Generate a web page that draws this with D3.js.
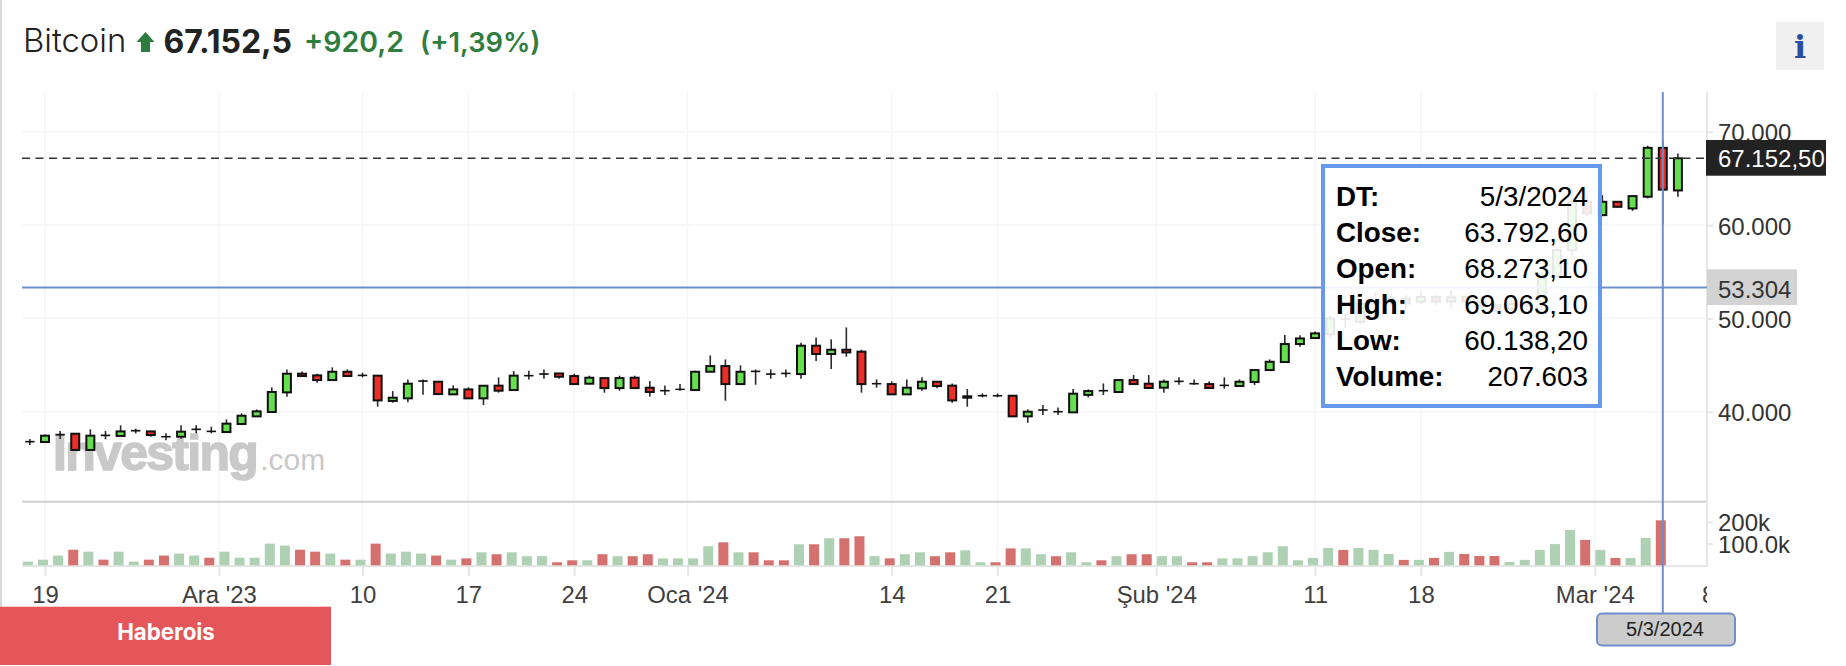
<!DOCTYPE html>
<html><head><meta charset="utf-8">
<script src="https://cdn.jsdelivr.net/npm/d3@7/dist/d3.min.js"></script>
<style>html,body{margin:0;padding:0;background:#fff}svg{display:block}</style>
</head><body><svg id="c" width="1846" height="666"></svg>
<script>
const opens=[36780,36750,37520,37640,35900,37480,37400,37950,37890,37330,37320,38100,37900,37820,38680,39500,39970,42070,44070,43890,43390,44280,43880,43860,41150,41430,43270,43210,41860,42390,41430,42790,42320,43850,44020,44100,43820,43000,43600,42530,43640,42570,42240,42390,42320,44280,44890,42960,44330,44040,44110,44030,47070,46180,46640,46430,42990,42960,41860,42500,43210,42790,41500,41700,41720,41710,39500,40170,40010,39930,41800,42260,42110,43390,43000,42570,43240,43010,42960,42810,42750,43180,44460,45320,47250,47890,48290,49950,49650,51600,51800,52130,51780,52300,51800,52300,51800,51400,51000,51400,51800,54460,57300,62490,61060,62490,61780,63030,68273.1,63705];
const closes=[36800,37430,37560,35900,37430,37450,37890,37980,37500,37310,37860,38120,37880,38720,39570,40040,42110,44070,43820,43390,44280,43820,43900,41210,41500,43000,43300,41890,42390,41430,42780,42250,43860,43870,44050,43750,42960,43640,42530,43600,42530,42110,42260,42400,44280,44890,42960,44280,44310,44020,44090,47070,46180,46640,46350,42960,43010,41860,42570,43210,42750,41210,41650,41730,41700,39500,40000,40190,39990,41930,42210,42240,43390,42960,42540,43210,43260,42990,42540,42830,43210,44460,45350,47250,47850,48390,49990,49920,51600,51800,52100,51600,52300,51800,52250,51800,51300,50800,51550,51700,54300,57310,62450,61240,62490,61950,63100,68270,63792.6,67152.5];
const highs=[37070,37570,37930,37640,38110,37930,38540,38180,37930,37680,38540,38540,38390,39180,39820,40250,42610,44530,44320,44070,44750,44530,44180,43890,42210,43460,43460,43220,42820,42610,42800,43680,44350,44390,44530,44110,44070,43860,43610,43860,43860,43280,42820,42960,44390,46030,45600,44960,44530,44530,44530,47390,47960,47750,49030,46640,43460,43250,43460,43680,43250,43030,42430,41960,41960,41730,40250,40710,40460,42430,42390,43030,43460,43930,43930,43460,43680,43460,43250,43680,43460,44530,45600,48210,48180,48600,50300,50500,51950,52800,52600,52500,52900,52500,53030,52400,52000,51500,51950,51950,54900,57500,63900,63200,63200,62550,63200,68500,69063.1,67668];
const lows=[36430,36680,37070,35890,35820,37040,37320,37680,37320,36930,37110,37680,37680,37750,38610,39430,39890,41610,43750,43110,43320,43750,43680,40540,40960,41000,41820,41860,41780,41390,40710,42040,42250,43460,43530,43530,42930,42930,42040,42250,42500,41610,41780,42250,42320,44250,41180,42930,42890,43530,43680,43530,45430,44570,45890,42040,42570,41790,41820,42250,42500,40960,40530,41540,41540,39480,38820,39640,39640,39890,41530,41790,42040,42960,42500,42040,42890,42890,42500,42460,42680,42860,44390,45250,46960,47820,47850,49000,49300,50700,51400,51000,51500,51400,51070,50700,50900,50500,50650,50900,50700,54450,56700,60880,60950,61880,61520,62850,60138.2,63027];
const volumes=[17,26,45,72,63,26,63,17,26,45,54,45,35,63,35,35,100,91,72,63,54,26,26,100,54,63,54,45,26,32,60,51,60,42,42,14,23,23,51,42,42,51,32,32,32,88,106,60,60,23,23,97,97,125,125,134,42,32,51,60,42,60,69,14,14,78,78,51,42,60,14,23,42,51,51,42,42,14,14,32,32,42,60,88,23,34,80,71,80,71,52,25,25,34,62,52,43,43,15,25,71,98,163,117,71,34,34,126,207.603,0].map(v=>v*1000);
const xTickDays=[1,12.5,22,29,36,43.5,57,64,74.5,85,92,103.5,111];
const xTickLabels=["19","Ara '23","10","17","24","Oca '24","14","21","Şub '24","11","18","Mar '24","8"];
const priceTicks=[40000,50000,60000,70000];
const volumeTicks=[100000,200000];
const volumeTickLabels=["100.0k","200k"];
const lastPrice=67152.5, crossPrice=53304, crossDay=108;
const tooltipLabels=["DT:","Close:","Open:","High:","Low:","Volume:"];
const tooltipValues=["5/3/2024","63.792,60","68.273,10","69.063,10","60.138,20","207.603"];

const svg=d3.select("#c");
const sans="'Liberation Sans',Arial,sans-serif", inter="Inter,sans-serif";
const L=22,R=1707,T=92,B=565.3,SEP=501.7;
const x=d3.scaleLinear().domain([1,108]).range([45,1662.8]);
const y=d3.scaleLinear().domain([40000,70000]).range([411.7,131.7]);
const yv=d3.scaleLinear().domain([0,100000]).range([B,B-21.67]);
const loc=d3.formatLocale({decimal:",",thousands:".",grouping:[3],currency:["",""]});
const days=d3.range(opens.length);
const UP="#66DF4E",DN="#EE2E24",VUP="#ADD1B2",VDN="#D4706E",LINE="#e6e6e6",BLUE="#6E8FC9";

svg.append("rect").attr("x",0).attr("y",0).attr("width",2).attr("height",610).attr("fill","#d9d9d9");

// header
const hdr=svg.append("g").attr("font-family",inter);
hdr.append("text").attr("x",23).attr("y",52).attr("font-size",32.8).attr("font-weight",300).attr("fill","#222").text("Bitcoin");
hdr.append("path").attr("d",d3.line()([[145.5,32],[154.5,42],[150,42],[150,52],[141,52],[141,42],[136.5,42]])+"Z").attr("fill","#2E7D3E");
hdr.append("text").attr("x",163.5).attr("y",53).attr("font-size",32).attr("font-weight",700).attr("fill","#222").text("67.152,5");
hdr.append("text").attr("x",304).attr("y",52).attr("font-size",28.5).attr("font-weight",600).attr("fill","#2F7D3F").text("+920,2");
hdr.append("text").attr("x",420).attr("y",52).attr("font-size",27.3).attr("font-weight",600).attr("fill","#2F7D3F").text("(+1,39%)");

// info button
svg.append("rect").attr("x",1776).attr("y",22).attr("width",48).attr("height",48).attr("fill","#f0f0f0");
svg.append("text").attr("x",1800).attr("y",58).attr("text-anchor","middle").attr("font-family","'DejaVu Serif',serif").attr("font-weight",700).attr("font-size",32).attr("fill","#2B4F9E").text("i");

// grid
const grid=svg.append("g").attr("stroke","#f5f5f5").attr("stroke-width",1.5);
grid.selectAll(".v").data(xTickDays.slice(0,-1)).join("line").attr("x1",d=>x(d)).attr("x2",d=>x(d)).attr("y1",T).attr("y2",B);
grid.selectAll(".h").data(priceTicks).join("line").attr("x1",L).attr("x2",R).attr("y1",d=>y(d)).attr("y2",d=>y(d));

// watermark
const wm=svg.append("text").attr("x",53).attr("y",470).attr("font-family",sans).attr("fill","#c9c9c9");
wm.append("tspan").attr("font-size",50).attr("font-weight",700).attr("stroke","#c9c9c9").attr("stroke-width",1.5).attr("letter-spacing",-1.7).text("Investing");
wm.append("tspan").attr("font-size",30).attr("dx",3).text(".com");

// panes
svg.append("line").attr("x1",L).attr("x2",R).attr("y1",SEP).attr("y2",SEP).attr("stroke","#cfcfcf").attr("stroke-width",2);
svg.append("line").attr("x1",L).attr("x2",R).attr("y1",B+.7).attr("y2",B+.7).attr("stroke",LINE).attr("stroke-width",2);

// volume
svg.append("g").selectAll("rect").data(days.filter(i=>volumes[i]>0)).join("rect")
  .attr("x",i=>x(i)-7).attr("width",10).attr("y",i=>yv(volumes[i])).attr("height",i=>yv(0)-yv(volumes[i]))
  .attr("fill",i=>closes[i]>=opens[i]?VUP:VDN);

// axes
svg.append("clipPath").attr("id","xclip").append("rect").attr("x",0).attr("y",0).attr("width",R).attr("height",666);
const ax=svg.append("g").attr("clip-path","url(#xclip)").append("g").attr("transform",`translate(0,${B+1})`).call(
  d3.axisBottom(x).tickValues(xTickDays).tickSize(10).tickPadding(6).tickFormat((d,i)=>xTickLabels[i]));
ax.select(".domain").remove();
ax.selectAll("line").attr("stroke",LINE).attr("stroke-width",2);
ax.selectAll("text").attr("font-family",sans).attr("font-size",23.9).attr("fill","#3f3f3f").attr("dy",0).attr("y",603-B-1);
ax.selectAll("g.tick").filter((d,i)=>i===xTickDays.length-1).select("line").remove();

const ap=svg.append("g").attr("transform",`translate(${R},0)`).call(
  d3.axisRight(y).tickValues(priceTicks).tickSize(6).tickPadding(5).tickFormat(loc.format(",d")));
const av=svg.append("g").attr("transform",`translate(${R},0)`).call(
  d3.axisRight(yv).tickValues(volumeTicks).tickSize(6).tickPadding(5).tickFormat((d,i)=>volumeTickLabels[i]));
[ap,av].forEach(a=>{a.select(".domain").remove();
  a.selectAll("line").attr("stroke",LINE).attr("stroke-width",2);
  a.selectAll("text").attr("font-family",sans).attr("font-size",24).attr("fill","#333").attr("x",11).attr("y",1.3);});
svg.append("line").attr("x1",R).attr("x2",R).attr("y1",T).attr("y2",B+1.5).attr("stroke",LINE).attr("stroke-width",2);

// candles
const cs=svg.append("g").selectAll("g").data(days).join("g");
cs.append("line").attr("x1",i=>x(i)).attr("x2",i=>x(i)).attr("y1",i=>y(highs[i])).attr("y2",i=>y(lows[i]))
  .attr("stroke","#2a2a2a").attr("stroke-width",1.6);
cs.append("rect").attr("x",i=>x(i)-4).attr("width",8)
  .attr("y",i=>y(Math.max(opens[i],closes[i]))).attr("height",i=>Math.abs(y(opens[i])-y(closes[i])))
  .attr("fill",i=>closes[i]>=opens[i]?UP:DN).attr("stroke","#111")
  .attr("stroke-width",i=>Math.abs(y(opens[i])-y(closes[i]))<1?1.4:2);

// last price line
svg.append("line").attr("x1",L).attr("x2",R).attr("y1",y(lastPrice)).attr("y2",y(lastPrice))
  .attr("stroke","#333").attr("stroke-width",1.6).attr("stroke-dasharray","8,5.5");

// crosshair
svg.append("line").attr("x1",L).attr("x2",R).attr("y1",y(crossPrice)).attr("y2",y(crossPrice)).attr("stroke",BLUE).attr("stroke-width",2);
svg.append("line").attr("x1",x(crossDay)).attr("x2",x(crossDay)).attr("y1",T).attr("y2",613).attr("stroke",BLUE).attr("stroke-width",2);

// tooltip
svg.append("rect").attr("x",1323).attr("y",166).attr("width",277).attr("height",240)
  .attr("fill","#fff").attr("fill-opacity",.9).attr("stroke","#6699EE").attr("stroke-width",4);
const tt=svg.append("g").attr("font-family",sans).attr("font-size",27.8).attr("fill","#000");
tt.selectAll(".l").data(tooltipLabels).join("text").attr("x",1336).attr("y",(d,i)=>206+i*36).attr("font-weight",700).text(d=>d);
tt.selectAll(".r").data(tooltipValues).join("text").attr("x",1588).attr("y",(d,i)=>206+i*36).attr("text-anchor","end").text(d=>d);

// right-hand price flags
svg.append("rect").attr("x",1706).attr("y",140).attr("width",120).attr("height",35.7).attr("fill","#222");
svg.append("text").attr("x",1718).attr("y",167).attr("font-family",sans).attr("font-size",24).attr("fill","#fff").text(loc.format(",.2f")(lastPrice));
svg.append("rect").attr("x",1707).attr("y",269.3).attr("width",90).attr("height",35.7).attr("fill","#d3d3d3");
svg.append("text").attr("x",1718).attr("y",298).attr("font-family",sans).attr("font-size",24).attr("fill","#333").text(loc.format(",d")(crossPrice));

// date pill
svg.append("rect").attr("x",1597).attr("y",613.5).attr("width",138).attr("height",32).attr("rx",5)
  .attr("fill","#cccccc").attr("stroke",BLUE).attr("stroke-width",2);
svg.append("text").attr("x",1665).attr("y",636).attr("text-anchor","middle").attr("font-family",sans).attr("font-size",20).attr("fill","#222").text(tooltipValues[0]);

// banner
svg.append("rect").attr("x",0).attr("y",606.7).attr("width",331).attr("height",58.3).attr("fill","#E5565B");
svg.append("text").attr("x",166).attr("y",640).attr("text-anchor","middle").attr("font-family",inter).attr("font-weight",700).attr("font-size",22.3).attr("fill","#fff").text("Haberois");
</script></body></html>
